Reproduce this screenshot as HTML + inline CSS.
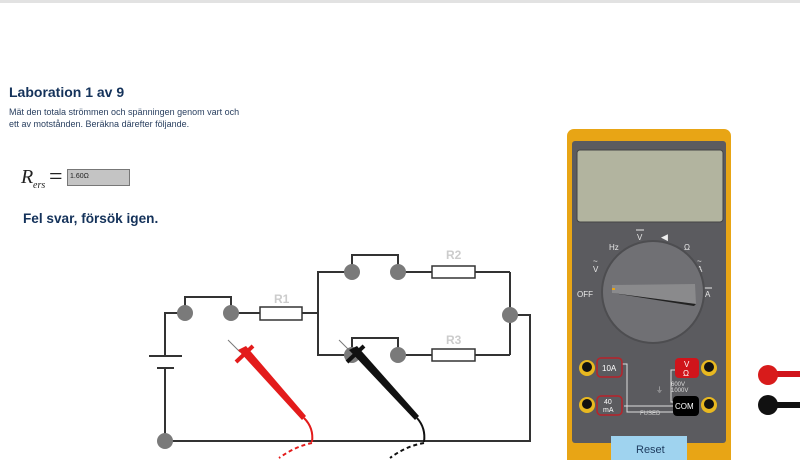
<!DOCTYPE html>
<html><head><meta charset="utf-8"><style>
body{margin:0;width:800px;height:460px;overflow:hidden;background:#fff;font-family:"Liberation Sans",sans-serif}
</style></head><body>
<svg width="800" height="460" viewBox="0 0 800 460" xmlns="http://www.w3.org/2000/svg" style="position:absolute;left:0;top:0">
<rect x="0" y="0" width="800" height="3" fill="#e2e2e2"/>
<text x="9" y="97" font-family="Liberation Sans,sans-serif" font-size="14" font-weight="bold" fill="#14325a">Laboration 1 av 9</text>
<text x="9" y="115" font-size="9" fill="#2a4060">Mät den totala strömmen och spänningen genom vart och</text>
<text x="9" y="127" font-size="9" fill="#2a4060">ett av motstånden. Beräkna därefter följande.</text>
<text x="21" y="183" font-family="Liberation Serif,serif" font-style="italic" font-size="20" fill="#222">R</text>
<text x="33" y="188" font-family="Liberation Serif,serif" font-style="italic" font-size="10" fill="#222">ers</text>
<text x="49" y="184" font-family="Liberation Serif,serif" font-size="24" fill="#222">=</text>
<rect x="67.5" y="169.5" width="62" height="16" fill="#c4c4c4" stroke="#777"/>
<text x="70" y="178" font-size="7" fill="#222">1.60Ω</text>
<text x="23" y="223" font-size="13.6" font-weight="bold" fill="#14325a">Fel svar, försök igen.</text>

<g stroke="#333" stroke-width="2" fill="none">
<polyline points="185,313 185,297 231,297 231,313"/>
<line x1="231" y1="313" x2="260" y2="313"/>
<line x1="302" y1="313" x2="318" y2="313"/>
<polyline points="352,272 318,272 318,355 352,355"/>
<polyline points="352,272 352,255 398,255 398,272"/>
<polyline points="352,355 352,338 398,338 398,355"/>
<line x1="398" y1="272" x2="432" y2="272"/>
<line x1="475" y1="272" x2="510" y2="272"/>
<line x1="398" y1="355" x2="432" y2="355"/>
<line x1="475" y1="355" x2="510" y2="355"/>
<line x1="510" y1="272" x2="510" y2="355"/>
<polyline points="510,315 530,315 530,441 165,441"/>
<polyline points="185,313 165,313 165,356"/>
<line x1="149" y1="356" x2="182" y2="356"/>
<line x1="157" y1="368" x2="174" y2="368"/>
<line x1="165" y1="368" x2="165" y2="441"/>
</g>
<g fill="#fff" stroke="#333" stroke-width="1.5">
<rect x="260" y="307" width="42" height="13"/>
<rect x="432" y="266" width="43" height="12"/>
<rect x="432" y="349" width="43" height="12"/>
</g>
<g fill="#ccc" font-size="12" font-weight="bold">
<text x="274" y="303">R1</text><text x="446" y="259">R2</text><text x="446" y="344">R3</text>
</g>
<g fill="#7a7a7a">
<circle cx="185" cy="313" r="8"/><circle cx="231" cy="313" r="8"/>
<circle cx="352" cy="272" r="8"/><circle cx="398" cy="272" r="8"/>
<circle cx="352" cy="355" r="8"/><circle cx="398" cy="355" r="8"/>
<circle cx="510" cy="315" r="8"/><circle cx="165" cy="441" r="8"/>
</g>

<!-- red probe -->
<line x1="228" y1="340" x2="240" y2="352" stroke="#777" stroke-width="1"/>
<path d="M238,350 L246,346 L306,416 L302,420 Z" fill="#e31b1b"/>
<line x1="236" y1="362" x2="253" y2="346" stroke="#e31b1b" stroke-width="4"/>
<path d="M304,418 Q314,428 312,442" stroke="#e31b1b" stroke-width="2" fill="none"/>
<path d="M312,443 Q296,446 279,458" stroke="#e31b1b" stroke-width="2" stroke-dasharray="4,3" fill="none"/>
<!-- black probe -->
<line x1="339" y1="340" x2="351" y2="352" stroke="#777" stroke-width="1"/>
<path d="M349,350 L357,346 L419,416 L415,420 Z" fill="#111"/>
<line x1="347" y1="362" x2="364" y2="346" stroke="#111" stroke-width="4"/>
<path d="M417,418 Q426,428 424,442" stroke="#111" stroke-width="2" fill="none"/>
<path d="M424,443 Q406,446 390,458" stroke="#111" stroke-width="2" stroke-dasharray="4,3" fill="none"/>

<!-- multimeter -->
<rect x="567" y="129" width="164" height="340" rx="7" fill="#e8a515"/>
<rect x="572" y="141" width="154" height="302" rx="3" fill="#5b5b5f"/>
<rect x="577" y="150" width="146" height="72" rx="3" fill="#b2b49f" stroke="#444"/>
<g fill="#e8e8e8" font-size="8">
<text x="609" y="250">Hz</text><text x="637" y="240">V</text><text x="684" y="250">Ω</text>
<text x="593" y="272">V</text><text x="697" y="272">A</text><text x="577" y="297">OFF</text><text x="705" y="297">A</text>
<text x="593" y="264">~</text><text x="697" y="264">~</text>
</g>
<g stroke="#e8e8e8" stroke-width="1">
<line x1="636" y1="230" x2="644" y2="230"/><line x1="704" y1="288" x2="712" y2="288"/>
</g>
<text x="661" y="240" fill="#eee" font-size="9">◀</text>
<circle cx="653" cy="292" r="51" fill="#707074" stroke="#4d4d50" stroke-width="2"/>
<path d="M612,285 L695,284 L696,304 L612,293 Z" fill="#8a8a8c"/>
<path d="M612,293 L696,304 L694,306 Z" fill="#222"/>
<rect x="612" y="288" width="3" height="2" fill="#e8a515"/>
<g stroke="#ddd" stroke-width="1" fill="none">
<polyline points="621,364 627,364 627,412 680,412"/>
<polyline points="680,370 671,370 671,402 680,402"/>
<line x1="624" y1="406" x2="680" y2="406"/>
</g>
<rect x="597" y="358" width="25" height="19" rx="4" fill="#5b5b5f" stroke="#b8232a" stroke-width="1.5"/>
<text x="602" y="371" fill="#fff" font-size="8">10A</text>
<rect x="597" y="396" width="25" height="19" rx="4" fill="#5b5b5f" stroke="#b8232a" stroke-width="1.5"/>
<text x="604" y="404" fill="#fff" font-size="7">40</text><text x="603" y="412" fill="#fff" font-size="7">mA</text>
<rect x="675" y="358" width="24" height="20" rx="4" fill="#d0141b"/>
<text x="684" y="367" fill="#fff" font-size="8">V</text><text x="683" y="376" fill="#fff" font-size="8">Ω</text>
<rect x="673" y="396" width="26" height="20" rx="4" fill="#000"/>
<text x="675" y="409" fill="#fff" font-size="8">COM</text>
<text x="671" y="386" fill="#ddd" font-size="6">600V</text><text x="671" y="392" fill="#ddd" font-size="6">1000V</text>
<text x="640" y="415" fill="#ccc" font-size="6">FUSED</text>
<text x="656" y="392" fill="#ccc" font-size="7">⏚</text>
<g>
<circle cx="587" cy="368" r="8" fill="#e8b820"/><circle cx="587" cy="367" r="5" fill="#111"/>
<circle cx="587" cy="405" r="8" fill="#e8b820"/><circle cx="587" cy="404" r="5" fill="#111"/>
<circle cx="709" cy="368" r="8" fill="#e8b820"/><circle cx="709" cy="367" r="5" fill="#111"/>
<circle cx="709" cy="405" r="8" fill="#e8b820"/><circle cx="709" cy="404" r="5" fill="#111"/>
</g>
<rect x="611" y="436" width="76" height="24" fill="#9fd3ef"/>
<text x="636" y="453" fill="#1d3b5e" font-size="11">Reset</text>
<!-- leads -->
<rect x="770" y="371" width="30" height="6" fill="#d0141b"/>
<circle cx="768" cy="375" r="10" fill="#d81b1b"/>
<rect x="770" y="402" width="30" height="6" fill="#111"/>
<circle cx="768" cy="405" r="10" fill="#111"/>
</svg>
</body></html>
